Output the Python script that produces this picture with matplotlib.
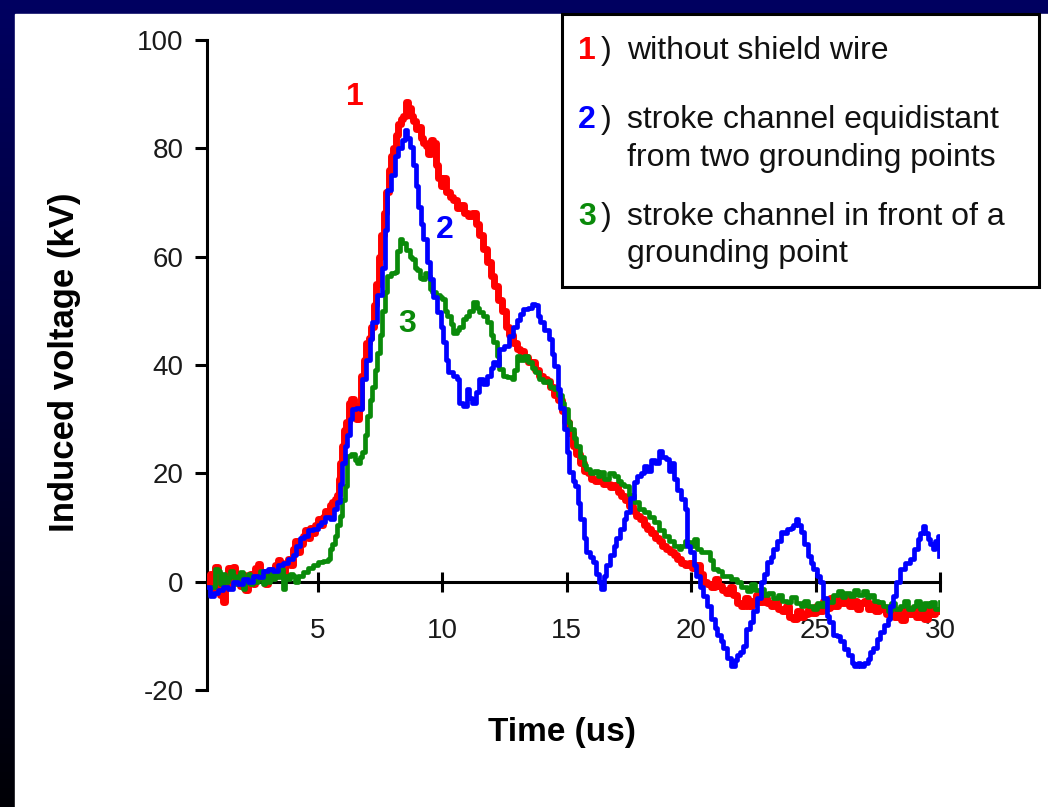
import numpy as np
import matplotlib.pyplot as plt
from matplotlib.patches import Rectangle

plt.rcParams['font.family'] = ['Liberation Sans', 'DejaVu Sans']
plt.rcParams['axes.unicode_minus'] = False

# curve 1: without shield wire
t_red = [0.56, 0.7, 0.8, 0.9, 1.0, 1.1, 1.2, 1.3, 1.4, 1.5, 1.6, 1.7, 1.8, 1.9, 2.0,
         2.1, 2.2, 2.3, 2.4, 2.5, 2.6, 2.7, 2.8, 2.9, 3.0, 3.1, 3.2, 3.3, 3.4, 3.5,
         3.6, 3.7, 3.8, 3.9, 4.0, 4.1, 4.2, 4.3, 4.4, 4.5, 4.6, 4.7, 4.8, 4.9, 5.0,
         5.1, 5.2, 5.3, 5.4, 5.5, 5.6, 5.7, 5.8, 5.85, 5.9, 6.0, 6.05, 6.15, 6.25,
         6.35, 6.45, 6.55, 6.65, 6.75, 6.85, 6.95, 7.05, 7.15, 7.25, 7.35, 7.45, 7.55,
         7.65, 7.75, 7.85, 7.95, 8.05, 8.15, 8.25, 8.35, 8.45, 8.55, 8.65, 8.75, 8.85,
         8.95, 9.05, 9.15, 9.25, 9.35, 9.45, 9.55, 9.65, 9.75, 9.85, 9.95, 10.05,
         10.15, 10.3, 10.45, 10.6, 10.75, 10.9, 11.05, 11.2, 11.35, 11.5, 11.65, 11.8,
         11.95, 12.1, 12.25, 12.4, 12.55, 12.7, 12.85, 13.0, 13.15, 13.3, 13.45, 13.6,
         13.75, 13.9, 14.05, 14.2, 14.35, 14.5, 14.65, 14.8, 14.95, 15.1, 15.25, 15.4,
         15.55, 15.7, 15.85, 16.0, 16.15, 16.3, 16.45, 16.6, 16.75, 16.9, 17.05, 17.2,
         17.35, 17.5, 17.65, 17.8, 17.95, 18.1, 18.25, 18.4, 18.55, 18.7, 18.85, 19.0,
         19.15, 19.3, 19.45, 19.6, 19.75, 19.9, 20.05, 20.2, 20.35, 20.5, 20.65, 20.8,
         20.95, 21.1, 21.25, 21.4, 21.55, 21.7, 21.85, 22.0, 22.15, 22.3, 22.45, 22.6,
         22.75, 22.9, 23.05, 23.2, 23.35, 23.5, 23.65, 23.8, 23.95, 24.1, 24.25, 24.4,
         24.55, 24.7, 24.85, 25.0, 25.15, 25.3, 25.45, 25.6, 25.75, 25.9, 26.05, 26.2,
         26.35, 26.5, 26.65, 26.8, 26.95, 27.1, 27.25, 27.4, 27.55, 27.7, 27.85, 28.0,
         28.15, 28.3, 28.45, 28.6, 28.75, 28.9, 29.05, 29.2, 29.35, 29.5, 29.65, 29.8, 30.0]
v_red = [-0.5, 1.5, -1.5, 2.8, 0.5, -2.5, -3.8, -1.0, 2.5, 0.8, 2.8, 0.0, 1.5, -0.8, 1.2,
         -1.5, 0.5, 1.5, -0.5, 2.5, 3.2, 0.8, 1.8, -0.5, 1.0, 2.2, 0.8, 3.0, 4.0, 3.0,
         1.5, 3.5, 4.2, 3.0, 6.0, 7.5, 5.5, 7.0, 8.5, 9.5, 8.0, 10.0, 9.0, 10.5, 11.5,
         10.5, 12.0, 13.0, 12.2, 14.2, 14.8, 15.2, 16.0, 19.0, 22.0, 25.0, 28.0, 29.5, 33.0,
         33.8, 32.5, 30.0, 32.0, 38.0, 41.0, 44.0, 45.0, 47.0, 51.0, 55.0, 60.0, 64.0,
         68.0, 72.0, 76.0, 78.5, 80.0, 82.5, 84.5, 85.5, 86.0, 88.5, 87.5, 86.0, 85.0,
         83.5, 84.0, 82.0, 81.0, 80.5, 79.0, 81.5, 81.0, 77.0, 74.5, 73.0, 74.5,
         72.0, 71.0, 70.5, 69.0, 69.5, 68.0, 67.5, 68.0, 66.0, 64.0, 61.5, 59.0,
         56.5, 54.5, 52.0, 50.0, 47.0, 45.5, 44.0, 43.0, 42.5, 41.5, 40.5, 40.5,
         39.0, 38.0, 37.5, 37.0, 36.0, 34.5, 33.5, 31.5, 29.5, 27.5, 25.0, 23.5,
         22.0, 20.5, 20.0, 19.0, 18.5, 19.0, 18.0, 18.0, 17.5, 17.8, 16.5, 15.8,
         15.0, 14.0, 13.0, 12.2, 11.5, 10.5, 9.8, 9.0, 8.0, 7.5, 6.5, 6.0,
         5.5, 5.0, 4.2, 3.5, 3.0, 3.5, 2.5, 3.0, 1.5, 0.0, -0.5, -1.0,
         0.5, -0.8, -1.5, -2.0, -1.0, -2.5, -4.0, -4.5, -3.0, -4.5, -3.5, -2.5,
         -3.8, -3.0, -4.0, -4.5, -3.5, -5.0, -5.5, -4.5, -6.5, -6.8, -5.5, -6.5,
         -6.0, -5.0, -5.8, -4.5, -5.5, -3.5, -4.8, -3.0, -4.5, -3.2, -4.0, -3.0,
         -4.5, -3.5, -5.0, -4.0, -3.5, -5.0, -4.2, -5.5, -4.5, -5.0, -6.0, -4.8,
         -6.5, -5.5, -7.0, -5.0, -6.0, -4.8, -6.5, -5.5, -6.8, -5.0, -6.0, -5.2, -5.5]

# curve 2: stroke channel equidistant from two grounding points
t_blue = [0.56, 0.7, 0.85, 1.0, 1.2, 1.4, 1.6, 1.8, 2.0, 2.2, 2.4, 2.6, 2.8, 3.0, 3.2,
          3.4, 3.6, 3.8, 4.0, 4.15, 4.3, 4.45, 4.6, 4.8, 5.0, 5.15, 5.3, 5.5, 5.65, 5.8,
          5.9, 6.0, 6.1, 6.2, 6.3, 6.4, 6.55, 6.7, 6.8, 6.95, 7.1, 7.2, 7.4, 7.6, 7.7,
          7.8, 7.95, 8.1, 8.25, 8.4, 8.5, 8.6, 8.7, 8.85, 8.95, 9.05, 9.15, 9.25, 9.4,
          9.5, 9.65, 9.8, 9.95, 10.05, 10.15, 10.25, 10.45, 10.6, 10.7, 10.85, 11.0,
          11.1, 11.2, 11.35, 11.5, 11.65, 11.8, 11.95, 12.05, 12.2, 12.3, 12.5, 12.7,
          12.85, 13.0, 13.15, 13.25, 13.45, 13.6, 13.75, 13.85, 13.95, 14.1, 14.3, 14.4,
          14.5, 14.65, 14.75, 14.9, 15.0, 15.1, 15.25, 15.35, 15.45, 15.55, 15.7, 15.8,
          15.95, 16.05, 16.2, 16.3, 16.4, 16.5, 16.6, 16.75, 16.9, 17.0, 17.15, 17.3,
          17.4, 17.55, 17.7, 17.85, 18.0, 18.1, 18.25, 18.4, 18.55, 18.7, 18.85, 19.0,
          19.1, 19.2, 19.3, 19.45, 19.6, 19.75, 19.85, 19.95, 20.1, 20.2, 20.35, 20.5,
          20.65, 20.8, 20.95, 21.05, 21.2, 21.3, 21.45, 21.6, 21.75, 21.85, 21.95, 22.1,
          22.2, 22.35, 22.5, 22.65, 22.8, 22.95, 23.05, 23.2, 23.3, 23.45, 23.6, 23.75,
          23.85, 24.0, 24.1, 24.2, 24.3, 24.4, 24.55, 24.7, 24.8, 24.9, 25.05, 25.2,
          25.3, 25.45, 25.55, 25.7, 25.85, 26.0, 26.15, 26.3, 26.45, 26.55, 26.7, 26.8,
          26.95, 27.1, 27.2, 27.3, 27.45, 27.6, 27.75, 27.9, 28.0, 28.1, 28.25, 28.4,
          28.6, 28.8, 28.95, 29.1, 29.2, 29.3, 29.4, 29.5, 29.6, 29.7, 29.8, 29.9, 29.95]
v_blue = [-1.0, -2.6, -2.0, -1.5, -1.0, -1.3, 0.0, -0.5, 0.5, 0.0, 1.0, 0.8, 2.0, 2.4, 2.0,
          3.0, 3.5, 4.2, 5.0, 6.5, 8.0, 8.5, 9.5, 9.8, 10.5, 11.0, 12.0, 11.6, 13.5, 14.7,
          18.0, 22.0, 25.0, 27.0, 30.0, 31.9, 32.0, 31.9, 37.4, 41.0, 44.8, 47.9, 53.0, 58.0, 65.0,
          72.4, 75.0, 78.5, 80.0, 81.6, 83.4, 82.0, 80.3, 77.0, 73.0, 69.2, 66.0, 63.2, 59.0,
          55.8, 52.5, 49.7, 47.0, 44.2, 41.0, 38.7, 38.0, 37.5, 33.0, 32.4, 35.5,
          34.0, 33.0, 35.0, 37.4, 36.5, 38.0, 39.5, 40.5, 40.0, 42.9, 43.5, 45.3,
          47.0, 48.4, 49.5, 50.3, 50.5, 51.2, 51.0, 49.0, 47.9, 46.5, 44.8, 42.0,
          39.8, 35.5, 32.0, 28.2, 24.0, 20.3, 18.5, 17.7, 14.5, 11.6, 8.0, 5.5,
          4.5, 3.7, 1.5, 0.0, -1.3, 1.0, 3.0, 5.0, 6.6, 8.0, 9.8, 11.5,
          12.9, 15.5, 18.4, 19.5, 20.0, 21.4, 20.5, 22.5, 22.0, 24.1, 23.0, 22.6,
          20.5, 22.0, 19.0, 17.0, 15.3, 13.4, 6.6, 5.5, 3.0, 1.1, -1.0, -2.6,
          -4.5, -6.8, -8.5, -9.9, -11.0, -12.3, -14.0, -15.5, -14.5, -13.6, -13.0, -11.8,
          -8.7, -7.5, -5.5, -3.0, 0.0, 1.5, 3.7, 4.5, 6.1, 7.5, 9.2, 9.0,
          9.8, 10.0, 10.5, 11.6, 10.5, 9.2, 7.0, 4.8, 3.5, 2.4, 1.0, 0.0,
          -3.0, -6.3, -7.5, -9.9, -10.0, -11.0, -12.5, -13.6, -15.0, -15.5, -15.0, -15.5,
          -15.0, -14.2, -13.0, -12.3, -10.5, -9.2, -8.0, -6.8, -4.5, -2.6, 0.0, 2.4,
          3.5, 4.2, 6.0, 7.9, 9.0, 10.3, 9.0, 7.9, 7.0, 6.1, 7.5, 8.5, 4.8]

# curve 3: stroke channel in front of a grounding point
t_green = [0.8, 0.9, 1.0, 1.1, 1.2, 1.3, 1.4, 1.5, 1.6, 1.7, 1.8, 1.9, 2.0, 2.1, 2.2,
           2.3, 2.4, 2.5, 2.6, 2.7, 2.8, 2.9, 3.0, 3.1, 3.2, 3.3, 3.4, 3.5, 3.6, 3.7,
           3.8, 3.9, 4.0, 4.1, 4.2, 4.4, 4.6, 4.8, 5.0, 5.2, 5.4, 5.5, 5.6, 5.7, 5.8,
           5.9, 6.0, 6.1, 6.2, 6.35, 6.5, 6.6, 6.7, 6.8, 6.9, 7.0, 7.1, 7.2, 7.3, 7.4,
           7.5, 7.6, 7.7, 7.8, 7.95, 8.1, 8.2, 8.3, 8.4, 8.55, 8.7, 8.8, 8.9, 9.0, 9.1,
           9.2, 9.3, 9.4, 9.5, 9.6, 9.75, 9.9, 10.0, 10.1, 10.2, 10.35, 10.45, 10.6, 10.7,
           10.85, 10.95, 11.1, 11.25, 11.4, 11.5, 11.65, 11.8, 11.95, 12.05, 12.2, 12.3,
           12.45, 12.6, 12.8, 12.9, 13.0, 13.15, 13.3, 13.45, 13.6, 13.75, 13.9, 14.05,
           14.2, 14.35, 14.5, 14.65, 14.8, 14.9, 15.05, 15.15, 15.3, 15.4, 15.55, 15.7,
           15.8, 15.95, 16.1, 16.25, 16.35, 16.5, 16.7, 16.9, 17.05, 17.2, 17.3, 17.5,
           17.7, 17.9, 18.1, 18.3, 18.5, 18.7, 18.9, 19.1, 19.3, 19.5, 19.6, 19.75, 19.85,
           20.0, 20.1, 20.25, 20.4, 20.6, 20.75, 20.9, 21.1, 21.25, 21.4, 21.6, 21.85,
           22.0, 22.25, 22.4, 22.55, 22.8, 22.95, 23.1, 23.3, 23.5, 23.65, 23.85, 24.0,
           24.2, 24.4, 24.55, 24.7, 24.9, 25.05, 25.2, 25.35, 25.5, 25.7, 25.9, 26.05,
           26.2, 26.4, 26.55, 26.7, 26.9, 27.05, 27.2, 27.35, 27.5, 27.7, 27.9, 28.05,
           28.2, 28.4, 28.55, 28.7, 28.9, 29.05, 29.2, 29.35, 29.5, 29.65, 29.8, 30.0]
v_green = [-1.0, 2.4, 2.0, -0.5, 1.5, 0.0, 0.6, 2.0, 1.0, -0.5, 1.0, 1.8, -1.3, 0.0, 1.5,
           -0.5, 0.8, 0.0, 1.1, 2.0, -0.5, 1.0, 0.0, 1.5, 0.5, 2.0, 0.8, 2.4, -1.3, 1.0,
           0.5, 1.5, 1.1, 0.0, 1.0, 1.8, 2.5, 3.0, 3.7, 3.8, 4.2, 6.1, 7.0, 8.5, 10.5,
           12.2, 15.0, 17.7, 23.2, 23.5, 22.5, 22.0, 23.0, 24.0, 27.0, 30.6, 33.5, 36.0, 39.0, 42.3,
           45.5, 50.0, 53.4, 56.4, 57.0, 57.1, 61.0, 63.2, 62.5, 61.3, 60.0, 59.5, 58.0, 57.6, 56.0,
           55.8, 57.0, 56.4, 54.0, 53.4, 53.0, 52.5, 52.1, 50.0, 49.0, 47.5, 46.0, 46.5, 47.1,
           48.5, 49.0, 50.0, 51.6, 50.5, 49.7, 49.0, 47.9, 45.5, 44.2, 41.6, 39.2,
           38.0, 37.8, 37.4, 39.0, 41.6, 41.0, 41.6, 40.5, 39.5, 38.7, 37.5, 36.8,
           37.0, 36.0, 35.5, 34.5, 33.0, 31.9, 29.5, 28.2, 26.5, 25.0, 23.0, 21.5,
           20.8, 20.0, 20.5, 19.5, 20.3, 19.0, 20.0, 19.5, 18.5, 18.0, 17.7, 16.0,
           14.7, 13.5, 12.9, 12.0, 11.0, 9.5, 8.5, 7.5, 6.6, 6.0, 6.6, 7.5, 7.4,
           6.5, 7.9, 6.0, 5.5, 5.5, 4.0, 2.4, 2.0, 1.0, 1.1, 0.5, 0.0,
           -1.0, -1.8, -0.5, -1.5, -1.3, -2.5, -2.0, -3.1, -2.5, -3.5, -3.7, -2.8,
           -4.0, -4.4, -3.5, -4.5, -5.0, -4.0, -4.5, -3.5, -3.7, -2.5, -1.8, -2.8,
           -2.0, -2.6, -1.5, -2.5, -1.8, -2.8, -2.5, -3.5, -3.7, -4.5, -5.5, -4.0,
           -5.0, -4.4, -3.5, -5.0, -4.4, -3.5, -5.0, -4.0, -4.4, -3.8, -5.0, -3.7]

x_ticks = [5, 10, 15, 20, 25, 30]
y_ticks = [-20, 0, 20, 40, 60, 80, 100]
legend_items = [('1', '#ff0000', ['without shield wire']),
                ('2', '#0000ff', ['stroke channel equidistant', 'from two grounding points']),
                ('3', '#0a8a0a', ['stroke channel in front of a', 'grounding point'])]

W, H = 1048, 807
fig = plt.figure(figsize=(W / 100, H / 100), dpi=100)

# dark blue frame behind a white slide area
bg = fig.add_axes([0, 0, 1, 1], zorder=-10)
grad = np.linspace(0, 1, 256)[:, None]
navy = np.dstack([np.zeros_like(grad), np.zeros_like(grad), 0.38 - 0.36 * grad])
bg.imshow(navy, aspect='auto', extent=[0, 1, 0, 1], origin='upper')
bg.add_patch(Rectangle((15 / W, 0), 1, (H - 14) / H, color='white'))
bg.set_xlim(0, 1)
bg.set_ylim(0, 1)
bg.axis('off')

ax = fig.add_axes([207 / W, (H - 690) / H, 733 / W, 650 / H])
ax.patch.set_visible(False)
ax.plot(t_red, v_red, color='#ff0000', lw=5.0, drawstyle='steps-post', zorder=3)
ax.plot(t_green, v_green, color='#0a8a0a', lw=3.4, drawstyle='steps-post', zorder=4)
ax.plot(t_blue, v_blue, color='#0000ff', lw=3.4, drawstyle='steps-post', zorder=5)

ax.set_xlim(0.56, 30)
ax.set_ylim(-20, 100)
for s in ['top', 'right']:
    ax.spines[s].set_visible(False)
ax.spines['left'].set_linewidth(2.2)
ax.spines['bottom'].set_linewidth(2.2)
ax.spines['bottom'].set_position(('data', 0))
ax.spines['bottom'].set_zorder(2)
ax.set_xticks(x_ticks)
ax.set_yticks(y_ticks)
ax.tick_params(axis='x', direction='inout', length=14, width=2.2, pad=19,
               labelsize=20, labelcolor='#1a1a1a')
ax.tick_params(axis='y', direction='out', length=9, width=2.2, pad=8,
               labelsize=20, labelcolor='#1a1a1a')

ax.text(6.5, 89.5, '1', color='#ff0000', fontsize=23, fontweight='bold', ha='center', va='center')
ax.text(10.1, 65, '2', color='#0000ff', fontsize=23, fontweight='bold', ha='center', va='center')
ax.text(8.6, 47.5, '3', color='#0a8a0a', fontsize=23, fontweight='bold', ha='center', va='center')

fig.text(65 / W, 1 - 362 / H, 'Induced voltage (kV)', rotation=90, fontsize=25,
         fontweight='bold', ha='center', va='center', color='black')
fig.text(562 / W, 1 - 733 / H, 'Time (us)', fontsize=24, fontweight='bold',
         ha='center', va='center', color='black')

# legend box
fig.add_artist(Rectangle((562 / W, 1 - 287 / H), 477 / W, 273 / H, transform=fig.transFigure,
                         fill=False, ec='black', lw=2.2))
rows = [[51], [120, 158], [217, 254]]
for (num, col, lines), ys in zip(legend_items, rows):
    fig.text(587 / W, 1 - ys[0] / H, num, color=col, fontsize=23, fontweight='bold',
             ha='center', va='center')
    fig.text(606 / W, 1 - ys[0] / H, ')', color='#111111', fontsize=23, ha='center', va='center')
    for line, y in zip(lines, ys):
        fig.text(627 / W, 1 - y / H, line, fontsize=23, ha='left', va='center', color='#111111')

fig.savefig('out.png', dpi=100)
